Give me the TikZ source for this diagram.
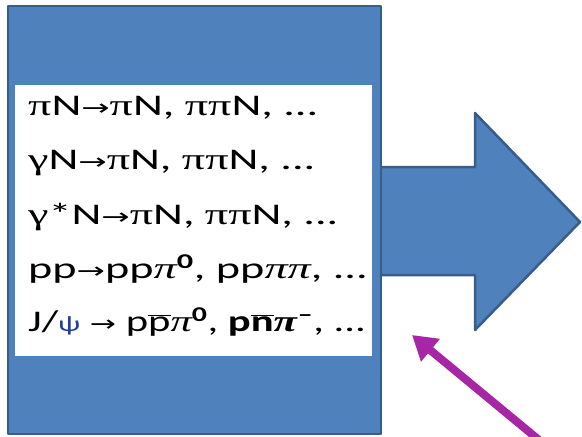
\documentclass[tikz,border=0pt]{standalone}
\usepackage{fontspec}
\setmainfont{Carlito}
\newfontfamily\symfont{DejaVu Sans}
\newfontfamily\grk{Liberation Serif}
\usetikzlibrary{arrows.meta}
\definecolor{boxblue}{HTML}{4F81BD}
\definecolor{boxedge}{HTML}{385D8A}
\definecolor{arrowpurple}{HTML}{A626A6}
\definecolor{psiblue}{HTML}{1F3F9F}
\tikzset{
  blockshape/.style={fill=boxblue, draw=boxedge, line width=2.5pt, line join=round},
  textline/.style={anchor=base west, inner sep=0pt, font=\fontsize{30}{36}\selectfont},
  pointer/.style={draw=arrowpurple, line width=8pt, -{Triangle[length=24pt,width=28pt]}}
}
\newcommand{\rarr}{{\symfont\fontsize{22}{30}\selectfont →}}
\newcommand{\gpi}{{\grk π}}
\newcommand{\ggam}{{\grk γ}}
\newcommand{\ipi}{{\grk\itshape π}}
\newcommand{\supz}{\textsuperscript{\textbf{0}}}
\newcommand{\wide}[2][1.54]{\scalebox{#1}[1]{#2}}
\begin{document}
\begin{tikzpicture}[x=1pt,y=-1pt]
\useasboundingbox (0,0) rectangle (582,437);
\clip (0,0) rectangle (582,437);
% block arrow
\draw[blockshape] (380,167) -- (475,167) -- (475,113) -- (580,222) -- (475,330) -- (475,275) -- (380,275) -- cycle;
% main box
\draw[blockshape] (8,6) rectangle (381,434);
\fill[white] (15,85) rectangle (372,356);
% text
\node[textline] (l1) at (28,115) {\wide{\gpi N\rarr\gpi N, \gpi\gpi N, ...}};
\node[textline] (l2) at (28,169) {\wide{\ggam N\rarr\gpi N, \gpi\gpi N, ...}};
\node[textline] (l3) at (28,224) {\wide{\ggam*N\rarr\gpi N, \gpi\gpi N, ...}};
\node[textline] (l4) at (28,278) {\wide{pp\rarr pp\ipi\supz, pp\ipi\ipi, ...}};
\node[textline] (l5) at (28,331) {\wide[1.42]{J/{\color{psiblue}\fontsize{22}{30}\selectfont ψ} \rarr{} p$\overline{\mbox{p}}$\ipi\supz, \textbf{p$\overline{\mbox{n}}$\ipi}\textsuperscript{\textbf{--}}, ...}};
% purple arrow
\coordinate (tail) at (545,445);
\coordinate (tip) at (412,335);
\draw[pointer] (tail) -- (tip);
\end{tikzpicture}
\end{document}
